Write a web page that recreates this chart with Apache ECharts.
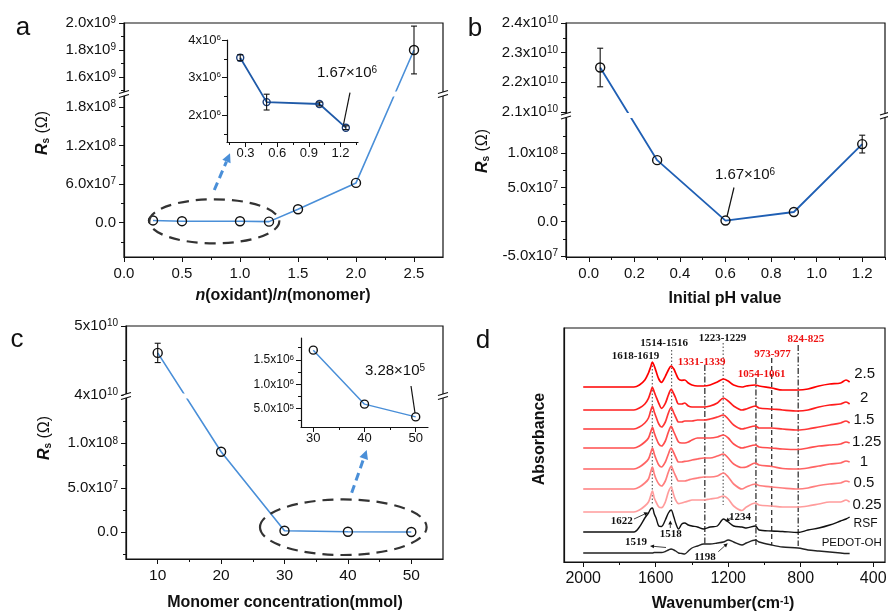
<!DOCTYPE html>
<html><head><meta charset="utf-8">
<script src="https://cdn.jsdelivr.net/npm/echarts@6/dist/echarts.min.js"></script>
<style>html,body{margin:0;padding:0;background:#fff}#c{width:888px;height:613px}</style>
</head><body><div id="c"></div>
<script>
// ================= DATA =================
// Panel a : R_s vs n(oxidant)/n(monomer)
const aX   = [0.25, 0.5, 1.0, 1.25, 1.5, 2.0, 2.5];
const aRs  = [3.53e6, 2.35e6, 2.30e6, 1.67e6, 2.1e7, 6.2e7, 1.80e9];
const aErr = [0.08e6, 0.21e6, 0.05e6, 0.05e6, 0, 0, 1.77e8];
const aXTicks = [0, 0.5, 1.0, 1.5, 2.0, 2.5];
const aXMinor = [0.25, 0.75, 1.25, 1.75, 2.25];
const aYTicksLow = [0, 6e7, 1.2e8, 1.8e8];
const aYMinorLow = [-3e7, 3e7, 9e7, 1.5e8];
const aYTicksHigh = [1.6e9, 1.8e9, 2.0e9];
const aYMinorHigh = [1.5e9, 1.7e9, 1.9e9];
const aInsetCount = 4;              // first four points are re-plotted in the inset
const aInsetXTicks = [0.3, 0.6, 0.9, 1.2];
const aInsetXMinor = [0.15, 0.45, 0.75, 1.05, 1.35];
const aInsetYTicks = [2e6, 3e6, 4e6];
const aInsetYMinor = [1.5e6, 2.5e6, 3.5e6];

// Panel b : R_s vs initial pH
const bX   = [0.05, 0.3, 0.6, 0.9, 1.2];
const bRs  = [2.25e10, 9.0e7, 1.67e6, 1.42e7, 1.135e8];
const bErr = [6.5e8, 0, 0, 0, 1.3e7];
const bXTicks = [0, 0.2, 0.4, 0.6, 0.8, 1.0, 1.2];
const bXMinor = [-0.1, 0.1, 0.3, 0.5, 0.7, 0.9, 1.1, 1.3];
const bYTicksLow = [-5e7, 0, 5e7, 1e8];
const bYMinorLow = [-2.5e7, 2.5e7, 7.5e7, 1.25e8];
const bYTicksHigh = [2.1e10, 2.2e10, 2.3e10, 2.4e10];
const bYMinorHigh = [2.15e10, 2.25e10, 2.35e10];

// Panel c : R_s vs monomer concentration
const cX   = [10, 20, 30, 40, 50];
const cRs  = [4.61e10, 9.05e7, 1.70e6, 5.9e5, 3.28e5];
const cErr = [1.4e9, 0, 0, 0, 0];
const cXTicks = [10, 20, 30, 40, 50];
const cXMinor = [15, 25, 35, 45];
const cYTicksLow = [0, 5e7, 1e8];
const cYMinorLow = [-2.5e7, 2.5e7, 7.5e7, 1.25e8];
const cYTicksHigh = [4e10, 5e10];
const cYMinorHigh = [4.5e10];
const cInsetFrom = 2;               // points 30,40,50 in inset
const cInsetXTicks = [30, 40, 50];
const cInsetXMinor = [35, 45];
const cInsetYTicks = [5e5, 1.0e6, 1.5e6];
const cInsetYMinor = [2.5e5, 7.5e5, 1.25e6, 1.75e6];

// Panel d : FTIR spectra (stacked, arbitrary absorbance units)
const dW = [2000,1720,1690,1660,1640,1628,1618,1608,1598,1583,1568,1547,1530,1515,1500,1490,1474,1456,1440,1420,
            1400,1370,1335,1300,1260,1226,1200,1170,1124,1100,1050,1030,960,900,815,760,700,640,580,550,530];
const d2_5  = [175,175,177,182,189,195,200,196,190.7,183,179.7,185.7,192,196,193,189,183,181.7,182,179,
               177,176,176,177,180,183,181,177,175,176,177,176,174,172,172,173,176,178,179,182,180];
const d2    = [152,152,154,158,163.7,170,174.7,170,165.3,158.7,153.7,158.7,167,172.7,168,164,158,158,159,156,
               155,155,155,156,159,164,161,156,152,153,156,154,153,152,151,152,155,157,158,160,158];
const d1_5  = [133,133,135,139,144,151,155.7,150,145,138,135,140,149,154.5,149,145,140,140,141,141,
               141,142,142,143,145,147,143,137,133,134,136,134,134,133,132,133,135,137,139,141,139];
const d1_25 = [114,114,116,120,124,130,134.6,129,124,118,116,121,130,135.6,130,126,120,119,119,120,
               122,124,124,124,125,127,124,118,114,115,117,115,114,113,112.5,114,116,117,118,120,119];
const d1    = [93,93,95,99,103,109,114,108,103,97,95,100,108,114,109,105,100,100,100.6,101,
               102,103,104,104,106,108,104,98,94.5,95,99,97,95.5,93.5,93,94,96,98,99,101,100];
const d0_5  = [73,73,75,79,83,90,95,88,83,78,76,81,90,95.6,90,86,81,81,81,82,
               83,84,85,85,86,89,85,78,73,75,78,76.5,75,74,73,74,76.5,78,79,81,80];
const d0_25 = [50,50,52,56,60,66,71,64,60,55,54.3,60,70,75,66.7,62,58.3,59,60,61,
               62,62,62,63,64,66,63,56,51.5,55,59,57,56,55,55,56,58,60,60,62,60];
const dRSF  = [30,30,35,44,49,53,54,48,44,36,35.5,42,49,52,45,39,33,38,39,37,
               36,35,33,35,36,43,40,36,35,34,36,32,31,30.5,29.5,32,34,37,41,43,45];
const dPEDOT= [9,9,9,9,9,9,9,9.5,9.5,9.5,9.5,10.5,12,13,12,11,9,8.5,8,11,
               14,16,18,18,19,20,22,20,17,19,22,20,17,15,14,12,11,10,9,8.5,8.5];
const dNames = ['2.5','2','1.5','1.25','1','0.5','0.25','RSF','PEDOT-OH'];
const dXTicks = [2000, 1600, 1200, 800, 400];
const dXMinor = [1800, 1400, 1000, 600];
// reference lines (wavenumber, top, bottom, style)
const dLineW   = [1619, 1512, 1228, 1329, 1047, 960, 814];
const dLineTop = [200, 212, 219, 197, 184, 204, 217];
const dLineBot = [57, 57, 57, 17, 17, 17, 16];
const dLineKind= ['dot','dot','dot','dashdot','dashdot','dash','dashdot'];
const dPeakLabels = ['1618-1619','1514-1516','1223-1229','1331-1339','973-977','824-825','1054-1061'];

// ================= HELPERS =================
const FONT = '"Liberation Sans", Arial, Helvetica, sans-serif';
const SERIF = '"Liberation Serif", "Times New Roman", serif';
const chart = echarts.init(document.getElementById('c'), null, {renderer:'canvas'});
const grids = [], xAxes = [], yAxes = [], series = [];

function rich(fs){
  return {
    m:{fontSize:fs, fontFamily:FONT, color:'#111'},
    s:{fontSize:Math.round(fs*0.65), fontFamily:FONT, color:'#111', verticalAlign:'top', lineHeight:Math.round(fs*0.75)}
  };
}
function sci(v, dec){
  if (v === 0) return '{m|' + (0).toFixed(dec) + '}';
  const e = Math.floor(Math.log10(Math.abs(v)) + 1e-9);
  const m = v / Math.pow(10, e);
  return '{m|' + m.toFixed(dec) + 'x10}{s|' + e + '}';
}
function makeMap(segs){
  return v => {
    let s = segs[segs.length-1];
    for (const g of segs){ if (v <= g.v1){ s = g; break; } }
    return s.d0 + (v - s.v0) / (s.v1 - s.v0) * (s.d1 - s.d0);
  };
}
function lookupFmt(pairs){
  return val => { for (const [p,t] of pairs) if (Math.abs(p-val) < 1e-6*Math.max(1,Math.abs(p))) return t; return ''; };
}
function axis(dim, gi, c, major){
  const ticks = major ? c.major : c.minor;
  const hasTicks = !!(ticks && ticks.length);
  return {
    type:'value', gridIndex:gi, min:c.min, max:c.max, inverse:!!c.inverse,
    position: dim==='x' ? 'bottom' : 'left',
    splitLine:{show:false}, splitArea:{show:false},
    axisLine:{show:major, onZero:false, lineStyle:{color:'#111', width:1.2}},
    axisTick:{show:hasTicks, inside:false, length: major?5:3, customValues: hasTicks?ticks:undefined, lineStyle:{color:'#111', width:1}},
    minorTick:{show:false},
    axisLabel: (major && c.labels) ? {show:true, customValues:c.major, formatter:c.fmt, margin:c.margin, color:'#111', fontSize:c.fs, fontFamily:FONT, rich:rich(c.fs)} : {show:false},
    axisPointer:{show:false}
  };
}
function addPanel(p){
  const gi = grids.length;
  grids.push(Object.assign({show:!!p.frame, borderColor:'#111', borderWidth:1.2, backgroundColor:'rgba(0,0,0,0)', containLabel:false, outerBoundsMode:'none'}, p.grid));
  const ai = xAxes.length;
  xAxes.push(axis('x', gi, p.x, true)); xAxes.push(axis('x', gi, p.x, false));
  yAxes.push(axis('y', gi, p.y, true)); yAxes.push(axis('y', gi, p.y, false));
  return ai;
}
function brokenY(segs, lowT, lowM, highT, highM, decLow, decHigh, fs, margin){
  const map = makeMap(segs);
  const pairs = lowT.map(v=>[map(v), sci(v,decLow)]).concat(highT.map(v=>[map(v), sci(v,decHigh)]));
  return {map, cfg:{min:segs[0].d0, max:segs[segs.length-1].d1, major:pairs.map(p=>p[0]),
    minor:lowM.map(map).concat(highM.map(map)), labels:true, fmt:lookupFmt(pairs), fs, margin}};
}
function plainY(min, max, ticks, minor, dec, fs, margin){
  return {min, max, major:ticks, minor, labels:true, fmt:v=>sci(v,dec), fs, margin};
}
function plainX(min, max, ticks, minor, dec, fs, margin, inverse){
  return {min, max, major:ticks, minor, labels:true, inverse, fmt:v=>'{m|'+v.toFixed(dec)+'}', fs, margin};
}
function lineSeries(ai, pts, color, w, sym, symColor){
  return {type:'line', xAxisIndex:ai, yAxisIndex:ai, data:pts, silent:true, animation:false, z:3,
    lineStyle:{color, width:w}, symbol:sym?'circle':'none', symbolSize:sym||0, showSymbol:!!sym,
    itemStyle:{color:'rgba(0,0,0,0)', borderColor:symColor||'#111', borderWidth:1.4}};
}
function errSeries(ai, xs, vs, es, map){
  const data = [];
  xs.forEach((x,i)=>{ if (es[i] > 0) data.push([x, map(vs[i]-es[i]), map(vs[i]+es[i])]); });
  return {type:'custom', xAxisIndex:ai, yAxisIndex:ai, data, encode:{x:0, y:[1,2]}, silent:true, animation:false, z:4, clip:false,
    renderItem:(params, api)=>{
      const x = api.value(0), p1 = api.coord([x, api.value(1)]), p2 = api.coord([x, api.value(2)]);
      const st = {stroke:'#111', lineWidth:1.1}, w = 3;
      return {type:'group', children:[
        {type:'line', shape:{x1:p1[0],y1:p1[1],x2:p2[0],y2:p2[1]}, style:st},
        {type:'line', shape:{x1:p1[0]-w,y1:p1[1],x2:p1[0]+w,y2:p1[1]}, style:st},
        {type:'line', shape:{x1:p2[0]-w,y1:p2[1],x2:p2[0]+w,y2:p2[1]}, style:st}]};
    }};
}
const ident = v => v;

// ================= PANELS =================
// a
const aY = brokenY([{v0:-5.345e7, v1:1.99e8, d0:0, d1:162},{v0:1.4815e9, v1:2.0e9, d0:164, d1:234}],
  aYTicksLow, aYMinorLow, aYTicksHigh, aYMinorHigh, 1, 1, 15, 8);
const aAi = addPanel({frame:true, grid:{left:124, top:23, width:319, height:234},
  x:plainX(0, 2.75, aXTicks, aXMinor, 1, 15, 9), y:aY.cfg});
series.push(lineSeries(aAi, aX.map((x,i)=>[x, aY.map(aRs[i])]), '#4a8fd8', 1.6, 9));
series.push(errSeries(aAi, aX, aRs, aErr.map((e,i)=>i>=aInsetCount?e:0), aY.map));
// a inset
const aiAi = addPanel({frame:false, grid:{left:227, top:40, width:131, height:102},
  x:plainX(0.125, 1.365, aInsetXTicks, aInsetXMinor, 1, 13, 5), y:plainY(1.29e6, 4.0e6, aInsetYTicks, aInsetYMinor, 0, 13, 6)});
series.push(lineSeries(aiAi, aX.slice(0,aInsetCount).map((x,i)=>[x, aRs[i]]), '#1f5aa8', 1.8, 7, '#1a3d78'));
series.push(errSeries(aiAi, aX.slice(0,aInsetCount), aRs, aErr, ident));

// b
const bY = brokenY([{v0:-5.16e7, v1:1.531e8, d0:0, d1:140},{v0:2.0933e10, v1:2.4e10, d0:143, d1:234}],
  bYTicksLow, bYMinorLow, bYTicksHigh, bYMinorHigh, 1, 1, 15, 8);
const bAi = addPanel({frame:true, grid:{left:566, top:23, width:319, height:234},
  x:plainX(-0.1, 1.3, bXTicks, bXMinor, 1, 15, 9), y:bY.cfg});
series.push(lineSeries(bAi, bX.map((x,i)=>[x, bY.map(bRs[i])]), '#1f5fb4', 1.8, 9));
series.push(errSeries(bAi, bX, bRs, bErr, bY.map));

// c
const cY = brokenY([{v0:-3.0e7, v1:1.52e8, d0:0, d1:162},{v0:4e10, v1:5e10, d0:164, d1:233}],
  cYTicksLow, cYMinorLow, cYTicksHigh, cYMinorHigh, 1, 0, 15, 8);
const cAi = addPanel({frame:true, grid:{left:126, top:326, width:317, height:233},
  x:plainX(5, 55, cXTicks, cXMinor, 0, 15.5, 9), y:cY.cfg});
series.push(lineSeries(cAi, cX.map((x,i)=>[x, cY.map(cRs[i])]), '#4a8fd8', 1.6, 9));
series.push(errSeries(cAi, cX, cRs, cErr, cY.map));
// c inset
const ciAi = addPanel({frame:false, grid:{left:301, top:338, width:127, height:89},
  x:plainX(27.6, 52.4, cInsetXTicks, cInsetXMinor, 0, 13, 5), y:plainY(1.2e5, 1.95e6, cInsetYTicks, cInsetYMinor, 1, 12, 7)});
series.push(lineSeries(ciAi, cX.slice(cInsetFrom).map((x,i)=>[x, cRs[i+cInsetFrom]]), '#4a8fd8', 1.5, 8));

// d
const dAi = addPanel({frame:true, grid:{left:564, top:328, width:321, height:234},
  x:plainX(335, 2106, dXTicks, dXMinor, 0, 16, 9, true), y:{min:0, max:234, major:[], minor:[], labels:false}});
const dSets = [d2_5, d2, d1_5, d1_25, d1, d0_5, d0_25, dRSF, dPEDOT];
const dColors = ['#ff0000','#ff1c1c','#ff3838','#ff4e4e','#ff6464','#ff7e7e','#ff9c9c','#111','#222'];
dSets.forEach((arr,k)=>{
  const s = lineSeries(dAi, dW.map((w,i)=>[w, arr[i]]), dColors[k], k<7?1.7:1.4, 0);
  s.smooth = 0.3; s.name = dNames[k];
  series.push(s);
});
const dashFor = {dot:[1.5,2], dashdot:[6,2,1.5,2], dash:[5,3]};
dLineW.forEach((w,i)=>{
  series.push({type:'line', xAxisIndex:dAi, yAxisIndex:dAi, silent:true, animation:false, z:2, symbol:'none',
    data:[[w, dLineTop[i]],[w, dLineBot[i]]],
    lineStyle:{color: dLineKind[i]==='dot'?'#444':'#222', width: dLineKind[i]==='dot'?1:1.2, type:dashFor[dLineKind[i]]}});
});

chart.setOption({animation:false, backgroundColor:'#fff', grid:grids, xAxis:xAxes, yAxis:yAxes, series});

// ================= DECORATIONS =================
const G = [];
const T = (x,y,text,o)=>Object.assign({type:'text', x, y, z:50, silent:true,
  style:Object.assign({text, align:'center', verticalAlign:'middle', fill:'#111', font:'15px '+FONT}, o||{})});
function seg(x1,y1,x2,y2,color,lw,dash){ return {type:'line', z:50, silent:true, shape:{x1,y1,x2,y2}, style:{stroke:color, lineWidth:lw, lineDash:dash||null}}; }
function arrow(x1,y1,x2,y2,color,lw,dash,head){
  const ang = Math.atan2(y2-y1, x2-x1);
  const hx = x2 - head*Math.cos(ang), hy = y2 - head*Math.sin(ang);
  const px = -Math.sin(ang)*head*0.5, py = Math.cos(ang)*head*0.5;
  return [seg(x1,y1,hx,hy,color,lw,dash),
    {type:'polygon', z:50, silent:true, shape:{points:[[x2,y2],[hx+px,hy+py],[hx-px,hy-py]]}, style:{fill:color}}];
}
function breakDecor(ai, gridCfg, xs, ds, dMid){
  const yPix = chart.convertToPixel({xAxisIndex:ai, yAxisIndex:ai}, [xs[0], dMid])[1];
  [gridCfg.left, gridCfg.left + gridCfg.width].forEach(x=>{
    G.push({type:'rect', z:60, silent:true, shape:{x:x-2.5, y:yPix-2, width:5, height:4}, style:{fill:'#fff'}});
    G.push(Object.assign(seg(x-5, yPix-0.5, x+5, yPix-3.5, '#111', 1.1), {z:61}));
    G.push(Object.assign(seg(x-5, yPix+3.5, x+5, yPix+0.5, '#111', 1.1), {z:61}));
  });
  for (let i=0;i<ds.length-1;i++){
    if ((ds[i]-dMid)*(ds[i+1]-dMid) < 0){
      const t = (dMid-ds[i])/(ds[i+1]-ds[i]);
      const p = chart.convertToPixel({xAxisIndex:ai, yAxisIndex:ai}, [xs[i]+t*(xs[i+1]-xs[i]), dMid]);
      G.push({type:'rect', z:60, silent:true, shape:{x:p[0]-5, y:p[1]-2.5, width:10, height:5}, style:{fill:'#fff'}});
    }
  }
}
breakDecor(aAi, grids[0], aX, aRs.map(aY.map), 163);
breakDecor(bAi, grids[2], bX, bRs.map(bY.map), 141.5);
breakDecor(cAi, grids[3], cX, cRs.map(cY.map), 163);

// panel letters
const LET = {font:'26px '+FONT};
G.push(T(23, 27.7, 'a', LET), T(475, 29.3, 'b', LET), T(17, 340.3, 'c', LET), T(483, 341, 'd', LET));

// axis titles
const RT = {r:{fontSize:16, fontWeight:'bold', fontStyle:'italic', fontFamily:FONT, fill:'#111'},
            s:{fontSize:10, fontWeight:'bold', fontFamily:FONT, fill:'#111', verticalAlign:'bottom'},
            o:{fontSize:16, fontFamily:FONT, fill:'#111'},
            b:{fontSize:16, fontWeight:'bold', fontFamily:FONT, fill:'#111'},
            i:{fontSize:16, fontWeight:'bold', fontStyle:'italic', fontFamily:FONT, fill:'#111'},
            u:{fontSize:10, fontWeight:'bold', fontFamily:FONT, fill:'#111', verticalAlign:'top'}};
const rsTitle = '{r|R}{s|s}{o| (Ω)}';
[[43,133],[483,151],[45,438]].forEach(([x,y])=>{
  const t = T(x, y, rsTitle, {rich:RT}); t.rotation = Math.PI/2; G.push(t);
});
const ab = T(540, 439, '{b|Absorbance}', {rich:RT}); ab.rotation = Math.PI/2; G.push(ab);
G.push(T(283, 296, '{i|n}{b|(oxidant)/}{i|n}{b|(monomer)}', {rich:RT}));
G.push(T(725, 299, '{b|Initial pH value}', {rich:RT}));
G.push(T(285, 603, '{b|Monomer concentration(mmol)}', {rich:RT}));
G.push(T(723, 604, '{b|Wavenumber(cm}{u|-1}{b|)}', {rich:RT}));

// value call-outs
const CR = {m:{fontSize:15, fontFamily:FONT, fill:'#111'}, s:{fontSize:10, fontFamily:FONT, fill:'#111', verticalAlign:'top'}};
G.push(T(347, 72.5, '{m|1.67×10}{s|6}', {rich:CR}), seg(350, 92.7, 343.5, 124.5, '#111', 1.2));
G.push(T(745, 175, '{m|1.67×10}{s|6}', {rich:CR}), seg(734, 187.5, 727, 216.5, '#111', 1.2));
G.push(T(395, 371, '{m|3.28×10}{s|5}', {rich:CR}), seg(411, 386, 415, 413, '#111', 1.2));

// ellipses and zoom arrows
G.push({type:'ellipse', z:50, silent:true, shape:{cx:214.3, cy:221.3, rx:65, ry:22}, style:{fill:null, stroke:'#333', lineWidth:2.2, lineDash:[11,7]}});
G.push({type:'ellipse', z:50, silent:true, shape:{cx:343.3, cy:527.2, rx:83.3, ry:27.8}, style:{fill:null, stroke:'#333', lineWidth:2.2, lineDash:[11,7]}});
G.push(...arrow(214.3, 190, 230, 153.3, '#4a8fd8', 3, [8,5], 9));
G.push(...arrow(351.7, 492.7, 366.7, 450, '#4a8fd8', 3, [8,5], 9));

// panel d annotations
const PB = {font:'bold 11px '+SERIF};
const PR = {font:'bold 11px '+SERIF, fill:'#ee1111'};
G.push(T(635.5, 355.8, dPeakLabels[0], PB), T(664.2, 343, dPeakLabels[1], PB), T(722.5, 338, dPeakLabels[2], PB),
       T(701.7, 362.5, dPeakLabels[3], PR), T(772.5, 353.8, dPeakLabels[4], PR), T(805.8, 339.5, dPeakLabels[5], PR),
       T(761.7, 373.8, dPeakLabels[6], PR));
G.push(T(621.7, 520.7, '1622', PB), T(670.7, 534.5, '1518', PB), T(740, 517, '1234', PB), T(636, 542.5, '1519', PB), T(705, 557.5, '1198', PB));
G.push(...arrow(634, 519, 648, 512.5, '#111', 0.8, null, 4));
G.push(...arrow(670.3, 528, 670.3, 520.5, '#111', 0.8, null, 4));
G.push(...arrow(731.5, 517.5, 725.5, 521.5, '#111', 0.8, null, 4));
G.push(...arrow(666, 547.5, 650, 546, '#111', 0.8, null, 4));
G.push(...arrow(718.3, 551.7, 727.7, 543.3, '#111', 0.8, null, 4));
// curve labels
const RL = {font:'15px '+FONT};
[[864.7,374],[864.2,398],[864,420],[866.7,442],[864,462.3],[864,483.3],[867,504.7]].forEach(([x,y],i)=>G.push(T(x,y,dNames[i],RL)));
G.push(T(865.5, 523.8, dNames[7], {font:'12px '+FONT}), T(851.7, 543.3, dNames[8], {font:'11.5px '+FONT}));

chart.setOption({graphic:{elements:G}});
</script>
</body></html>
